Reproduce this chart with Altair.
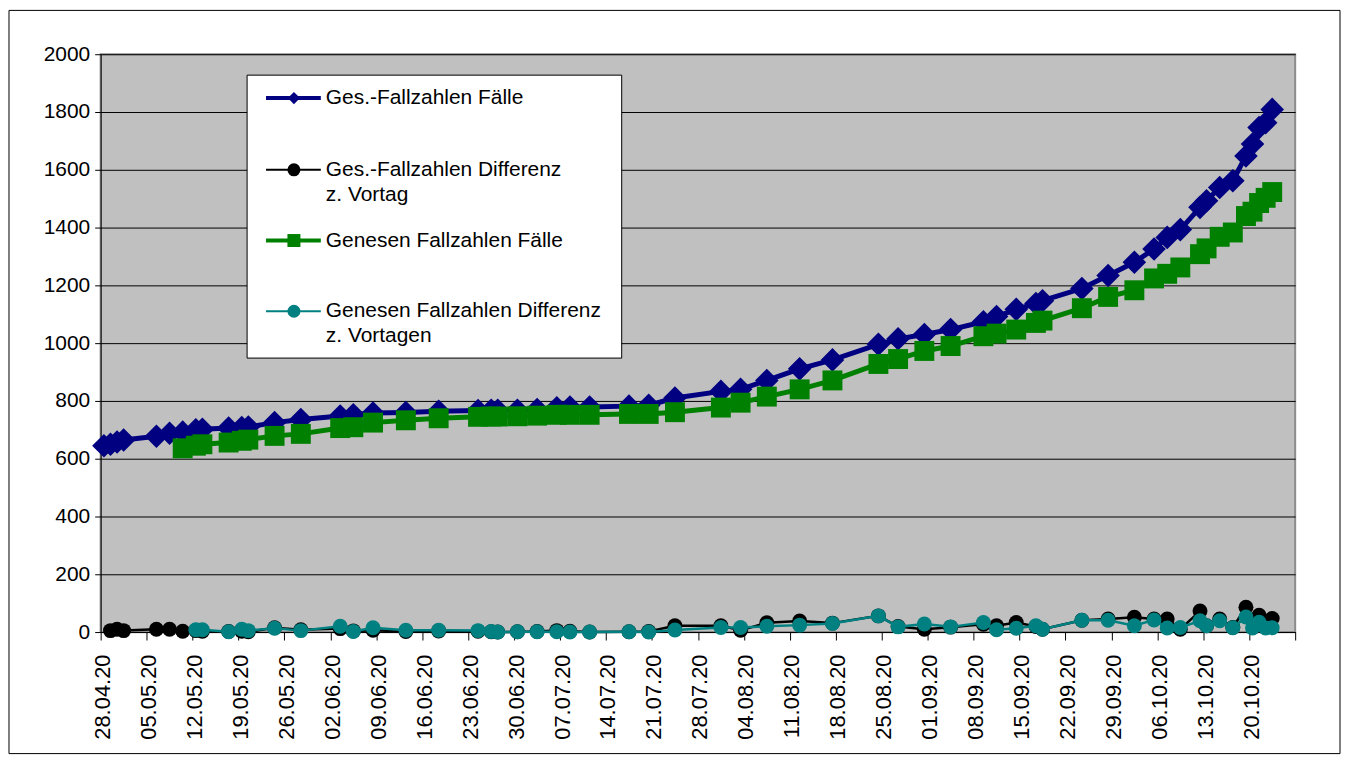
import altair as alt
import pandas as pd

# ---- data ----
dates = ["2020-04-28", "2020-04-29", "2020-04-30", "2020-05-01", "2020-05-06", "2020-05-08",
         "2020-05-10", "2020-05-12", "2020-05-13", "2020-05-17", "2020-05-19", "2020-05-20",
         "2020-05-24", "2020-05-28", "2020-06-03", "2020-06-05", "2020-06-08", "2020-06-13",
         "2020-06-18", "2020-06-24", "2020-06-26", "2020-06-27", "2020-06-30", "2020-07-03",
         "2020-07-06", "2020-07-08", "2020-07-11", "2020-07-17", "2020-07-20", "2020-07-24",
         "2020-07-31", "2020-08-03", "2020-08-07", "2020-08-12", "2020-08-17", "2020-08-24",
         "2020-08-27", "2020-08-31", "2020-09-04", "2020-09-09", "2020-09-11", "2020-09-14",
         "2020-09-17", "2020-09-18", "2020-09-24", "2020-09-28", "2020-10-02", "2020-10-05",
         "2020-10-07", "2020-10-09", "2020-10-12", "2020-10-13", "2020-10-15", "2020-10-17",
         "2020-10-19", "2020-10-20", "2020-10-21", "2020-10-22", "2020-10-23"]

ges_faelle = [645, 650, 658, 665, 678, 688, 692, 700, 702, 706, 708, 710, 725, 736, 748, 752,
              758, 760, 764, 767, 768, 768, 768, 770, 776, 779, 779, 782, 785, 810, 833, 840,
              871, 911, 942, 996, 1015, 1030, 1047, 1074, 1092, 1117, 1137, 1147, 1189, 1234,
              1280, 1326, 1366, 1393, 1470, 1493, 1539, 1562, 1648, 1689, 1746, 1763, 1809]

ges_diff = [None, 5, 10, 5, 10, 10, 3, 5, 3, 2, 3, 1, 15, 8, 12, 4, 6, 2, 4, 3, 1, 0, 1, 2,
            5, 3, 0, 1, 2, 22, 22, 6, 32, 38, 31, 56, 19, 10, 17, 27, 22, 33, 19, 10, 41, 45,
            51, 45, 45, 10, 73, 22, 45, 16, 86, 41, 58, 17, 47]

gen_faelle = [None, None, None, None, None, None, 636, 645, 650, 656, 662, 666, 679, 686, 706,
              709, 725, 733, 740, 745, 746, 746, 747, 749, 752, 752, 752, 755, 755, 761, 777,
              794, 815, 840, 871, 928, 945, 973, 990, 1024, 1033, 1047, 1070, 1078, 1121, 1160,
              1183, 1224, 1240, 1262, 1308, 1328, 1368, 1383, 1440, 1455, 1485, 1503, 1523]

gen_diff = [None, None, None, None, None, None, None, 8, 8, 1, 10, 5, 13, 5, 20, 2, 15, 6, 6,
            5, 2, 0, 1, 1, 1, 0, 0, 1, 0, 7, 16, 16, 20, 24, 30, 56, 18, 28, 18, 33, 8, 13, 22,
            10, 41, 41, 22, 42, 14, 16, 39, 22, 39, 15, 52, 14, 34, 14, 15]

tick_dates = ["2020-04-28", "2020-05-05", "2020-05-12", "2020-05-19", "2020-05-26", "2020-06-02",
              "2020-06-09", "2020-06-16", "2020-06-23", "2020-06-30", "2020-07-07", "2020-07-14",
              "2020-07-21", "2020-07-28", "2020-08-04", "2020-08-11", "2020-08-18", "2020-08-25",
              "2020-09-01", "2020-09-08", "2020-09-15", "2020-09-22", "2020-09-29", "2020-10-06",
              "2020-10-13", "2020-10-20", "2020-10-27"]

y_ticks = [0, 200, 400, 600, 800, 1000, 1200, 1400, 1600, 1800, 2000]

series_names = ["Ges.-Fallzahlen Fälle", "Ges.-Fallzahlen Differenz z. Vortag",
                "Genesen Fallzahlen Fälle", "Genesen Fallzahlen Differenz z. Vortagen"]

FONT = "Liberation Sans"

# points are plotted at the middle of their day (as the date axis of the original does)
ts = [(pd.Timestamp(d, tz="UTC") + pd.Timedelta(hours=12)).strftime("%Y-%m-%dT%H:%M:%SZ") for d in dates]


def dt(s):
    t = pd.Timestamp(s)
    return alt.DateTime(year=t.year, month=t.month, date=t.day, utc=True)


last_tick_ms = int(pd.Timestamp(tick_dates[-1], tz="UTC").value // 10**6)

x_enc = alt.X(
    "t:T",
    scale=alt.Scale(type="utc", domain=[dt(tick_dates[0]), dt(tick_dates[-1])]),
    axis=alt.Axis(
        values=[dt(s) for s in tick_dates],
        labelExpr=f"datum.value >= {last_tick_ms} ? '' : utcFormat(datum.value, '%d.%m.%y')",
        labelAngle=-90, labelFontSize=22, labelFont=FONT, labelColor="black",
        tickSize=8, tickColor="black", domainColor="black", labelPadding=14,
        labelOffset=2, grid=False, title=None, labelOverlap=False, labelFlush=False,
    ),
)
y_enc = alt.Y(
    "v:Q",
    scale=alt.Scale(domain=[0, 2000], nice=False),
    axis=alt.Axis(
        values=y_ticks, format="d", labelFontSize=21, labelFont=FONT, labelColor="black",
        tickSize=6, tickColor="black", domainColor="black", labelPadding=5,
        grid=True, gridColor="black", gridWidth=1, title=None,
    ),
)


def series_layers(values, color, shape, size, lw):
    df = pd.DataFrame({"t": ts, "v": values}).dropna()
    base = alt.Chart(df).encode(x=x_enc, y=y_enc)
    line = base.mark_line(color=color, strokeWidth=lw)
    pts = base.mark_point(shape=shape, filled=True, opacity=1, color=color, size=size,
                          strokeWidth=0)
    return [line, pts]


layers = []
layers += series_layers(ges_faelle, "#000080", "diamond", 560, 5)
layers += series_layers(ges_diff, "#000000", "circle", 225, 2.5)
layers += series_layers(gen_faelle, "#008000", "square", 400, 5)
layers += series_layers(gen_diff, "#008080", "circle", 225, 2.5)

one = pd.DataFrame({"a": [0]})

# outer frame of the whole picture
layers.append(alt.Chart(one).mark_rect(fillOpacity=0, stroke="black", strokeWidth=1).encode(
    x=alt.value(-92), x2=alt.value(1244), y=alt.value(-44), y2=alt.value(702)))

# legend box
layers.append(alt.Chart(one).mark_rect(fill="white", stroke="black", strokeWidth=1).encode(
    x=alt.value(147), x2=alt.value(523), y=alt.value(21), y2=alt.value(305)))

legend_rows = [
    ("#000080", "diamond", 150, 4, 44, ["Ges.-Fallzahlen Fälle"]),
    ("#000000", "circle", 170, 2, 116, ["Ges.-Fallzahlen Differenz", "z. Vortag"]),
    ("#008000", "square", 170, 4, 187, ["Genesen Fallzahlen Fälle"]),
    ("#008080", "circle", 170, 2, 258, ["Genesen Fallzahlen Differenz", "z. Vortagen"]),
]
for color, shape, size, lw, yy, lines in legend_rows:
    layers.append(alt.Chart(one).mark_rule(color=color, strokeWidth=lw).encode(
        x=alt.value(166), x2=alt.value(221), y=alt.value(yy)))
    layers.append(alt.Chart(one).mark_point(shape=shape, filled=True, opacity=1, color=color,
                                            size=size, strokeWidth=0).encode(
        x=alt.value(194), y=alt.value(yy)))
    for i, txt in enumerate(lines):
        layers.append(alt.Chart(one).mark_text(align="left", baseline="middle", fontSize=21,
                                               font=FONT, color="black").encode(
            x=alt.value(226), y=alt.value(yy + i * 25), text=alt.value(txt)))

chart = alt.layer(*layers).properties(
    width=1199, height=580,
    padding={"left": 93, "top": 45, "right": 46, "bottom": 123},
    autosize=alt.AutoSizeParams(type="none"),
    background="white",
).configure_view(fill="#C0C0C0", stroke="#8c8c8c", strokeWidth=2)

chart.save("out.html", embed_options={"renderer": "svg", "actions": False})
